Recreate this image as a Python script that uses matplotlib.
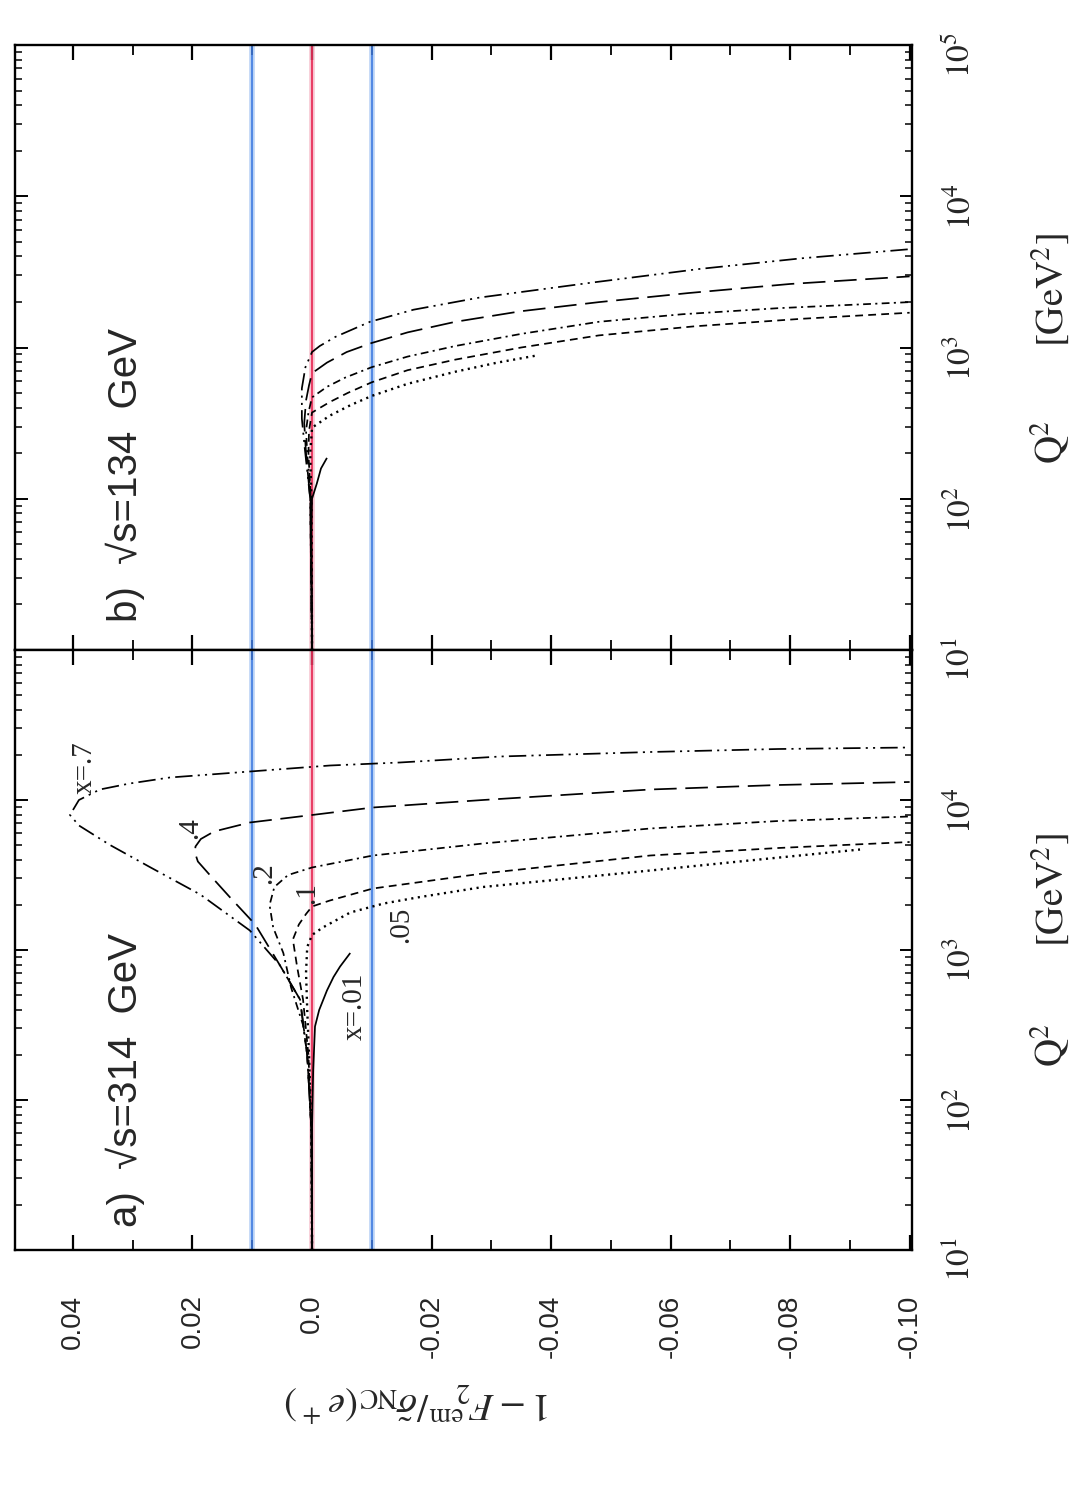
import numpy as np
import matplotlib
matplotlib.use("Agg")
import matplotlib.pyplot as plt
from matplotlib.ticker import FixedLocator, FixedFormatter, LogLocator, NullFormatter

plt.rcParams['mathtext.fontset'] = 'stix'
plt.rcParams['axes.unicode_minus'] = False

# ---------------- data ----------------
val_ticks = [0.04, 0.02, 0.0, -0.02, -0.04, -0.06, -0.08, -0.10]
val_labels = ['0.04', '0.02', '0.0', '-0.02', '-0.04', '-0.06', '-0.08', '-0.10']
val_minor = [0.05, 0.03, 0.01, -0.01, -0.03, -0.05, -0.07, -0.09]
q2_ticks = [1e1, 1e2, 1e3, 1e4, 1e5]
q2_labels = [r'$10^{1}$', r'$10^{2}$', r'$10^{3}$', r'$10^{4}$', r'$10^{5}$']

# panel a) sqrt(s)=314 GeV : log10(Q^2) and 1 - F2/sigma
a_x001_lq = [1.0, 1.8, 2.2, 2.49, 2.6, 2.73, 2.82, 2.89, 2.98]
a_x001_v = [0.0, 0.0, -0.0002, -0.0005, -0.0012, -0.0025, -0.0036, -0.0047, -0.0064]
a_x005_lq = [1.0, 1.8, 2.3, 2.6, 2.85, 3.02, 3.1, 3.15, 3.25, 3.31, 3.35, 3.42, 3.53, 3.6, 3.67]
a_x005_v = [0.0, 0.0001, 0.0005, 0.0008, 0.001, 0.0008, 0.0, -0.0018, -0.0064, -0.012, -0.0176, -0.0286, -0.0566, -0.074, -0.0917]
a_x01_lq = [1.0, 1.8, 2.3, 2.67, 2.89, 3.07, 3.17, 3.24, 3.29, 3.33, 3.41, 3.51, 3.63, 3.68, 3.72]
a_x01_v = [0.0, 0.0001, 0.0006, 0.0015, 0.0025, 0.0032, 0.0022, 0.001, 0.0, -0.003, -0.0102, -0.0286, -0.0566, -0.078, -0.100]
a_x02_lq = [1.0, 1.8, 2.3, 2.5, 2.75, 2.98, 3.15, 3.3, 3.42, 3.5, 3.55, 3.63, 3.71, 3.81, 3.86, 3.89]
a_x02_v = [0.0, 0.0001, 0.0008, 0.0015, 0.0035, 0.0048, 0.0065, 0.0071, 0.0063, 0.004, 0.0, -0.0102, -0.0286, -0.0566, -0.078, -0.100]
a_x04_lq = [1.0, 1.8, 2.3, 2.67, 2.9, 3.17, 3.35, 3.5, 3.59, 3.65, 3.69, 3.74, 3.79, 3.85, 3.9, 3.95, 4.0, 4.07, 4.1, 4.12]
a_x04_v = [0.0, 0.0001, 0.0008, 0.002, 0.0054, 0.0095, 0.0137, 0.0171, 0.0191, 0.0196, 0.0195, 0.0186, 0.0164, 0.0104, 0.0, -0.0102, -0.0286, -0.0566, -0.078, -0.100]
a_x07_lq = [1.0, 1.8, 2.3, 2.67, 2.9, 3.13, 3.37, 3.55, 3.7, 3.83, 3.9, 4.0, 4.07, 4.11, 4.15, 4.18, 4.21, 4.23, 4.25, 4.29, 4.32, 4.34, 4.35]
a_x07_v = [0.0, 0.0001, 0.0008, 0.002, 0.0054, 0.0104, 0.0187, 0.027, 0.0338, 0.039, 0.0405, 0.039, 0.0355, 0.0305, 0.0238, 0.0137, 0.0037, -0.003, -0.0147, -0.0315, -0.0566, -0.078, -0.100]

# panel b) sqrt(s)=134 GeV
b_x001_lq = [1.0, 1.8, 2.0, 2.1, 2.2, 2.27]
b_x001_v = [0.0, 0.0001, 0.0, -0.0008, -0.0015, -0.0025]
b_x005_lq = [1.0, 2.0, 2.3, 2.47, 2.55, 2.62, 2.68, 2.76, 2.84, 2.9, 2.95]
b_x005_v = [0.0, 0.0001, 0.0003, 0.0, -0.003, -0.0065, -0.010, -0.016, -0.024, -0.031, -0.038]
b_x01_lq = [1.0, 2.0, 2.3, 2.45, 2.57, 2.64, 2.7, 2.77, 2.85, 2.92, 3.0, 3.08, 3.14, 3.19, 3.23]
b_x01_v = [0.0, 0.0002, 0.0006, 0.0005, 0.0, -0.003, -0.006, -0.010, -0.016, -0.024, -0.035, -0.048, -0.064, -0.082, -0.100]
b_x02_lq = [1.0, 2.0, 2.3, 2.45, 2.57, 2.67, 2.74, 2.8, 2.87, 2.94, 3.01, 3.09, 3.17, 3.22, 3.26, 3.3]
b_x02_v = [0.0, 0.0002, 0.0008, 0.001, 0.0006, 0.0, -0.0025, -0.0055, -0.010, -0.016, -0.024, -0.035, -0.048, -0.062, -0.078, -0.100]
b_x04_lq = [1.0, 2.0, 2.3, 2.5, 2.65, 2.75, 2.83, 2.9, 2.97, 3.03, 3.1, 3.17, 3.24, 3.3, 3.36, 3.42, 3.47]
b_x04_v = [0.0, 0.0003, 0.001, 0.0013, 0.001, 0.0005, 0.0, -0.0025, -0.0058, -0.010, -0.016, -0.024, -0.035, -0.048, -0.063, -0.080, -0.100]
b_x07_lq = [1.0, 2.0, 2.33, 2.53, 2.73, 2.87, 2.97, 3.01, 3.07, 3.17, 3.25, 3.33, 3.43, 3.52, 3.59, 3.65]
b_x07_v = [0.0, 0.0003, 0.0012, 0.0017, 0.0017, 0.0011, 0.0, -0.0013, -0.0039, -0.0097, -0.017, -0.028, -0.047, -0.065, -0.082, -0.100]

# ---------------- styles ----------------
styles = {
    '.01': dict(ls='-', lw=1.25),
    '.05': dict(ls=(0, (0.9, 1.9)), lw=1.7),
    '.1': dict(ls=(0, (4.5, 3.0)), lw=1.25),
    '.2': dict(ls=(0, (4.5, 2.5, 1.2, 2.5)), lw=1.25),
    '.4': dict(ls=(0, (13, 5)), lw=1.25),
    '.7': dict(ls=(0, (10, 3, 1.2, 3, 1.2, 3)), lw=1.25),
}
panel_a = [('.01', a_x001_lq, a_x001_v), ('.05', a_x005_lq, a_x005_v), ('.1', a_x01_lq, a_x01_v),
           ('.2', a_x02_lq, a_x02_v), ('.4', a_x04_lq, a_x04_v), ('.7', a_x07_lq, a_x07_v)]
panel_b = [('.01', b_x001_lq, b_x001_v), ('.05', b_x005_lq, b_x005_v), ('.1', b_x01_lq, b_x01_v),
           ('.2', b_x02_lq, b_x02_v), ('.4', b_x04_lq, b_x04_v), ('.7', b_x07_lq, b_x07_v)]

W, H = 1081, 1491
fig = plt.figure(figsize=(W / 100, H / 100), dpi=100)
fig.patch.set_facecolor('white')


def fx(px):
    return px / W


def fy(py):
    return 1 - py / H


L, R = 15, 912
ax_b = fig.add_axes([fx(L), fy(650), fx(R) - fx(L), fy(45) - fy(650)])
ax_a = fig.add_axes([fx(L), fy(1250), fx(R) - fx(L), fy(650) - fy(1250)])

TXT = '#262626'
for ax, data, is_b in [(ax_a, panel_a, False), (ax_b, panel_b, True)]:
    ax.set_yscale('log')
    ax.set_xlim(0.0497, -0.1004)
    ax.set_ylim(10, 1e5)
    for xv in (0.01, -0.01):
        ax.axvline(xv, color='#b9d2f5', lw=4.0, zorder=1)
        ax.axvline(xv, color='#3f7be0', lw=1.2, zorder=2)
    ax.axvline(0.0, color='#f7c4d0', lw=4.0, zorder=1)
    ax.axvline(0.0, color='#e8305a', lw=1.3, zorder=2)
    for key, lq, v in data:
        ax.plot(v, np.power(10.0, lq), color='black', zorder=3,
                solid_capstyle='butt', dash_capstyle='butt', **styles[key])
    for s in ax.spines.values():
        s.set_linewidth(1.7)
    ax.xaxis.set_major_locator(FixedLocator(val_ticks))
    ax.xaxis.set_minor_locator(FixedLocator(val_minor))
    ax.tick_params(axis='x', which='major', direction='in', length=11, width=1.6,
                   top=True, bottom=True)
    ax.tick_params(axis='x', which='minor', direction='in', length=7, width=1.3,
                   top=True, bottom=True)
    ax.yaxis.set_major_locator(FixedLocator(q2_ticks))
    ax.yaxis.set_minor_locator(LogLocator(base=10, subs=np.arange(2, 10), numticks=20))
    ax.yaxis.set_minor_formatter(NullFormatter())
    ax.tick_params(axis='y', which='major', direction='in', length=9, width=1.4,
                   left=True, right=True, labelleft=False, labelright=True,
                   labelrotation=90, pad=23, labelsize=24, labelcolor=TXT)
    ax.tick_params(axis='y', which='minor', direction='in', length=5, width=1.1,
                   left=True, right=True)
    if is_b:
        ax.yaxis.set_major_formatter(FixedFormatter(q2_labels))
        ax.tick_params(axis='x', labelbottom=False)
    else:
        ax.yaxis.set_major_formatter(FixedFormatter(q2_labels[:4] + ['']))
        ax.xaxis.set_major_formatter(FixedFormatter(val_labels))
        ax.tick_params(axis='x', labelbottom=True, labelrotation=90, pad=32, labelsize=20,
                       labelcolor=TXT)
        for t in ax.get_xticklabels():
            t.set_fontfamily('Liberation Sans')

# panel titles
fig.text(fx(125), fy(1080), 'a)  \u221as=314  GeV', rotation=90, ha='center', va='center',
         fontsize=29, family='Liberation Sans', color=TXT)
fig.text(fx(125), fy(475), 'b)  \u221as=134  GeV', rotation=90, ha='center', va='center',
         fontsize=29, family='Liberation Sans', color=TXT)

# curve labels in panel a
curve_labels = [('x=.7', 85, 768), ('.4', 190, 828), ('.2', 264, 873), ('.1', 307, 893),
                ('.05', 401, 925), ('x=.01', 355, 1006)]
for txt, px, py in curve_labels:
    fig.text(fx(px), fy(py), txt, rotation=90, ha='center', va='center', fontsize=21,
             family='Liberation Serif', color=TXT)

# axis titles
for qy, gy in ((1045, 890), (442, 290)):
    fig.text(fx(1050), fy(qy), r'$\mathrm{Q}^{2}$', rotation=90, ha='center', va='center',
             fontsize=28, color=TXT)
    fig.text(fx(1050), fy(gy), r'$[\mathrm{GeV}^{2}]$', rotation=90, ha='center', va='center',
             fontsize=28, color=TXT)
fig.text(fx(418), fy(1402), r'$1-F_2^{\,\mathrm{em}}/\tilde{\sigma}_{\mathrm{NC}}(e^+)$',
         rotation=180, ha='center', va='center', fontsize=28, color=TXT)

fig.savefig('out.png', dpi=100, facecolor='white')
